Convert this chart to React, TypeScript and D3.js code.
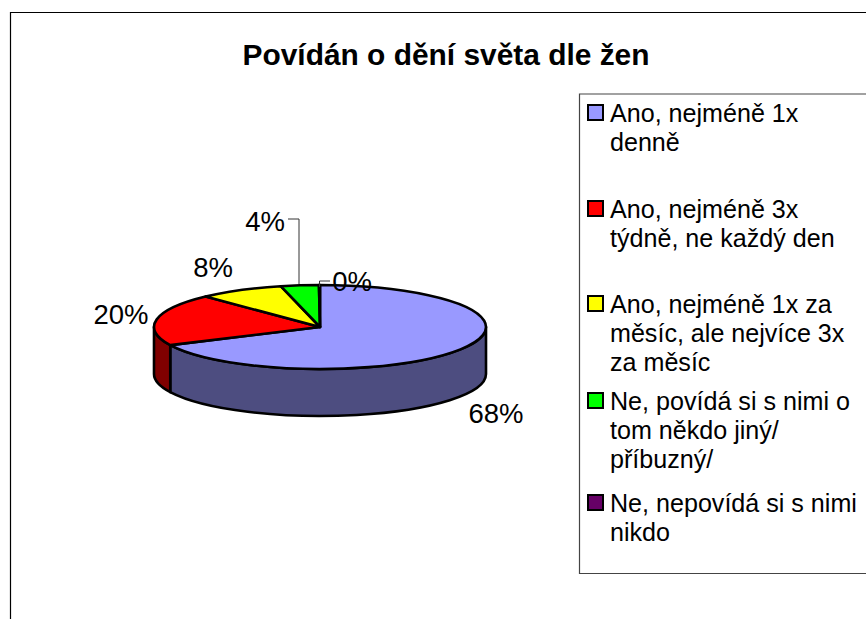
import React from "react";
import * as d3 from "d3";

const title = "Povídán o dění světa dle žen";
const categories = [
  ["Ano, nejméně 1x", "denně"],
  ["Ano, nejméně 3x", "týdně, ne každý den"],
  ["Ano, nejméně 1x za", "měsíc, ale nejvíce 3x", "za měsíc"],
  ["Ne, povídá si s nimi o", "tom někdo jiný/", "příbuzný/"],
  ["Ne, nepovídá si s nimi", "nikdo"],
];
const values = [67.9, 20, 8.3, 3.7, 0.1];
const percentLabels = ["68%", "20%", "8%", "4%", "0%"];
const topColors = ["#9999ff", "#ff0000", "#ffff00", "#00ff00", "#660066"];
const sideColors = ["#4d4d80", "#800000", "#808000", "#008000", "#330033"];
const legendTops = [117, 213, 308, 405, 507];
const labelPos: [number, number][] = [
  [496, 423],
  [121, 324],
  [213, 277],
  [265, 231],
  [352, 291],
];

const FONT = "'Liberation Sans', Arial, sans-serif";
const cx = 320, cy = 327, rx = 166, ry = 42, depth = 47;
const px = (a: number) => cx + rx * Math.sin(a);
const py = (a: number) => cy - ry * Math.cos(a);

export default function App() {
  const arcs = d3.pie<number>().sort(null)(values);

  const sidePath = (s: number, e: number) => {
    const a0 = Math.max(s, Math.PI / 2), a1 = Math.min(e, (3 * Math.PI) / 2);
    if (a1 <= a0) return null;
    return `M${px(a0)},${py(a0)}A${rx},${ry} 0 0 1 ${px(a1)},${py(a1)}L${px(a1)},${py(a1) + depth}A${rx},${ry} 0 0 0 ${px(a0)},${py(a0) + depth}Z`;
  };
  const topPath = (s: number, e: number) =>
    `M${cx},${cy}L${px(s)},${py(s)}A${rx},${ry} 0 ${e - s > Math.PI ? 1 : 0} 1 ${px(e)},${py(e)}Z`;

  return (
    <svg width={866} height={619} style={{ position: "absolute", left: 0, top: 0, background: "#fff" }} fontFamily={FONT}>
      <path d="M10.5,619V12.5H866" fill="none" stroke="#000" strokeWidth={1.2} />
      <text x={446} y={65} textAnchor="middle" fontSize={29.9} fontWeight="bold" fill="#000">{title}</text>

      {arcs.map((a, i) => {
        const d = sidePath(a.startAngle, a.endAngle);
        return d ? <path key={i} d={d} fill={sideColors[i]} stroke="#000" strokeWidth={2.6} strokeLinejoin="round" /> : null;
      })}
      {arcs.map((a, i) => (
        <path key={i} d={topPath(a.startAngle, a.endAngle)} fill={topColors[i]} stroke="#000" strokeWidth={2.6} strokeLinejoin="round" />
      ))}

      <path d="M288,219H299V284" fill="none" stroke="#333" strokeWidth={1} />
      <path d="M319.5,287V281H330" fill="none" stroke="#333" strokeWidth={1} />
      {percentLabels.map((t, i) => (
        <text key={i} x={labelPos[i][0]} y={labelPos[i][1]} textAnchor="middle" fontSize={27.5} fill="#000">{t}</text>
      ))}

      <path d="M866,94H579.5V573.5H866" fill="none" stroke="#444" strokeWidth={1.2} />
      {categories.map((lines, i) => (
        <g key={i}>
          <rect x={588} y={legendTops[i] - 12} width={15} height={15} fill={topColors[i]} stroke="#000" strokeWidth={2} />
          {lines.map((l, j) => (
            <text key={j} x={610} y={legendTops[i] + 5 + j * 29} fontSize={25.1} fill="#000">{l}</text>
          ))}
        </g>
      ))}
    </svg>
  );
}
